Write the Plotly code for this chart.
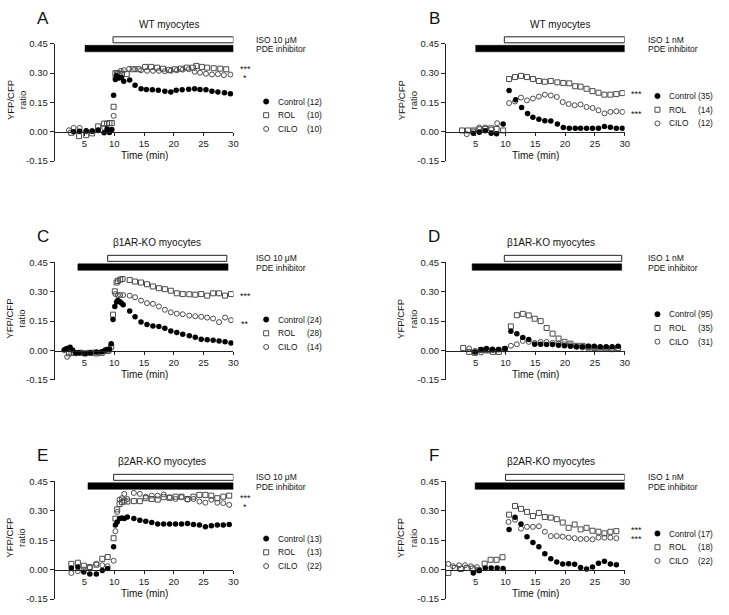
import plotly.graph_objects as go

W, H = 729, 615
FONT = "Liberation Sans, Arial, sans-serif"

# ---------------- data ----------------
# Panel A - WT myocytes, ISO 10 uM
A_ctrl_t = [3.2, 4.2, 5.3, 6.3, 7.3, 8.3, 8.8, 9.2, 9.6, 9.9, 10.2, 10.4, 10.8, 11.2, 11.6, 12.6, 13.5, 14.5, 15.4,
            16.4, 17.4, 18.5, 19.5, 20.4, 21.4, 22.5, 23.5, 24.4, 25.4, 26.4, 27.4, 28.5, 29.5]
A_ctrl_y = [0.0, 0.003, 0.005, 0.003, 0.007, -0.005, 0.015, -0.003, 0.012, 0.187, 0.267, 0.287, 0.275, 0.278, 0.258,
            0.265, 0.238, 0.22, 0.217, 0.215, 0.212, 0.208, 0.203, 0.212, 0.215, 0.218, 0.22, 0.217, 0.215, 0.208,
            0.203, 0.2, 0.195]
A_rol_t = [2.8, 4.1, 5.3, 6.3, 7.3, 8.3, 8.8, 9.2, 9.6, 9.9, 10.2, 10.5, 10.9, 11.3, 12.1, 13.1, 14.1, 15.2, 16.2,
           17.2, 18.2, 19.2, 20.2, 21.2, 22.2, 23.2, 23.8, 24.7, 25.6, 26.7, 27.8, 28.8]
A_rol_y = [-0.005, -0.022, -0.017, -0.008, 0.028, 0.042, 0.042, 0.045, 0.045, 0.128, 0.3, 0.3, 0.297, 0.297, 0.295,
           0.32, 0.32, 0.332, 0.332, 0.328, 0.323, 0.317, 0.32, 0.323, 0.328, 0.328, 0.337, 0.332, 0.328, 0.325,
           0.323, 0.32]
A_cilo_t = [2.4, 3.2, 4.2, 5.3, 6.3, 7.3, 8.3, 9.0, 9.9, 10.2, 10.6, 11.1, 11.6, 12.5, 13.5, 14.5, 15.5, 16.5, 17.5,
            18.5, 19.5, 20.5, 21.5, 22.5, 23.5, 24.4, 25.4, 26.4, 27.4, 28.4, 29.5]
A_cilo_y = [0.008, 0.02, 0.02, 0.002, 0.005, 0.01, 0.02, 0.01, 0.082, 0.28, 0.3, 0.312, 0.315, 0.322, 0.32, 0.315,
            0.312, 0.312, 0.312, 0.31, 0.312, 0.315, 0.318, 0.32, 0.307, 0.302, 0.297, 0.293, 0.295, 0.29, 0.293]

# Panel B - WT myocytes, ISO 1 nM
B_ctrl_t = [4.6, 5.6, 6.6, 7.6, 8.5, 9.6, 10.6, 11.7, 12.7, 13.7, 14.6, 15.6, 16.6, 17.6, 18.7, 19.7, 20.7, 21.7,
            22.6, 23.6, 24.6, 25.6, 26.6, 27.6, 28.6, 29.6]
B_ctrl_y = [-0.007, -0.002, 0.005, -0.007, -0.01, 0.04, 0.211, 0.164, 0.124, 0.094, 0.074, 0.064, 0.057, 0.055,
            0.04, 0.022, 0.018, 0.018, 0.018, 0.018, 0.018, 0.018, 0.027, 0.023, 0.018, 0.018]
B_rol_t = [2.7, 3.7, 4.6, 5.6, 6.6, 7.6, 8.5, 9.6, 10.6, 11.6, 12.6, 13.6, 14.6, 15.6, 16.6, 17.6, 18.7, 19.7, 20.7,
           21.7, 22.6, 23.6, 24.6, 25.6, 26.6, 27.6, 28.6, 29.6]
B_rol_y = [0.007, 0.007, 0.007, 0.013, 0.015, 0.018, 0.015, 0.007, 0.27, 0.28, 0.286, 0.28, 0.27, 0.26, 0.256, 0.26,
           0.253, 0.25, 0.248, 0.233, 0.231, 0.22, 0.208, 0.2, 0.19, 0.19, 0.193, 0.198]
B_cilo_t = [3.5, 4.6, 5.6, 6.6, 7.6, 8.6, 10.6, 11.6, 12.6, 13.6, 14.6, 15.6, 16.6, 17.6, 18.6, 19.6, 20.6, 21.6,
            22.6, 23.6, 24.6, 25.6, 26.6, 27.6, 28.6, 29.6]
B_cilo_y = [-0.012, 0.002, 0.022, 0.022, 0.012, 0.044, 0.147, 0.155, 0.175, 0.161, 0.17, 0.18, 0.19, 0.186, 0.178,
            0.152, 0.142, 0.136, 0.14, 0.127, 0.122, 0.11, 0.094, 0.102, 0.105, 0.102]

# Panel C - b1AR-KO, ISO 10 uM
C_ctrl_t = [1.6, 1.9, 2.1, 2.6, 3.0, 3.5, 4.1, 5.1, 6.0, 7.0, 7.9, 8.5, 8.8, 9.2, 9.5, 9.8, 10.1, 10.4, 10.6, 10.9,
            11.2, 11.5, 12.6, 13.5, 14.5, 15.5, 16.5, 17.5, 18.5, 19.5, 20.5, 21.5, 22.6, 23.6, 24.6, 25.6, 26.6,
            27.6, 28.6, 29.6]
C_ctrl_y = [0.002, 0.008, 0.01, 0.017, 0.002, -0.012, -0.012, -0.015, -0.012, -0.008, -0.007, 0.002, 0.005, 0.008,
            0.035, 0.158, 0.225, 0.247, 0.255, 0.25, 0.242, 0.233, 0.202, 0.172, 0.145, 0.133, 0.125, 0.122, 0.113,
            0.1, 0.092, 0.083, 0.075, 0.068, 0.058, 0.055, 0.052, 0.048, 0.045, 0.038]
C_rol_t = [2.4, 3.2, 4.1, 5.1, 6.0, 7.0, 7.9, 8.9, 9.5, 9.8, 10.1, 10.4, 10.6, 11.0, 11.4, 12.6, 13.5, 14.5, 15.5,
           16.5, 17.5, 18.5, 19.5, 20.5, 21.5, 22.6, 23.6, 24.6, 25.6, 26.6, 27.6, 28.6, 29.6]
C_rol_y = [-0.015, -0.012, -0.012, -0.015, -0.012, -0.015, -0.012, -0.003, 0.02, 0.183, 0.302, 0.347, 0.355, 0.362,
           0.365, 0.36, 0.352, 0.347, 0.338, 0.327, 0.318, 0.313, 0.305, 0.292, 0.288, 0.287, 0.285, 0.288, 0.28,
           0.292, 0.292, 0.28, 0.288]
C_cilo_t = [2.1, 2.8, 3.6, 4.6, 5.5, 6.5, 7.4, 8.3, 9.2, 10.2, 10.6, 11.0, 11.5, 12.6, 13.5, 14.5, 15.5, 16.5, 17.5,
            18.5, 19.5, 20.5, 21.5, 22.6, 23.6, 24.6, 25.6, 26.6, 27.6, 28.6, 29.6]
C_cilo_y = [-0.032, -0.012, -0.015, -0.01, -0.012, -0.01, -0.012, -0.005, 0.0, 0.288, 0.283, 0.283, 0.283, 0.28,
            0.272, 0.255, 0.242, 0.238, 0.225, 0.208, 0.195, 0.188, 0.185, 0.178, 0.175, 0.172, 0.168, 0.163, 0.145,
            0.168, 0.155]

# Panel D - b1AR-KO, ISO 1 nM
D_ctrl_t = [4.9, 5.9, 6.8, 7.8, 8.8, 9.9, 10.9, 11.9, 12.9, 13.9, 14.9, 15.9, 16.9, 17.9, 18.9, 19.9, 20.9, 21.9,
            22.9, 23.9, 24.9, 25.9, 26.9, 27.9, 28.9]
D_ctrl_y = [-0.008, 0.005, 0.01, 0.007, 0.005, 0.01, 0.098, 0.086, 0.066, 0.056, 0.032, 0.032, 0.03, 0.03, 0.027,
            0.024, 0.022, 0.019, 0.019, 0.022, 0.022, 0.019, 0.019, 0.019, 0.022]
D_rol_t = [2.9, 3.9, 4.9, 5.9, 6.9, 7.9, 8.9, 9.9, 10.9, 11.9, 12.9, 13.9, 14.9, 15.9, 16.9, 17.9, 18.9, 19.9, 20.9,
           21.9, 22.9, 23.9, 24.9, 25.9, 26.9, 27.9, 28.9]
D_rol_y = [0.013, -0.007, -0.012, 0.002, 0.0, -0.007, -0.007, 0.007, 0.123, 0.18, 0.187, 0.179, 0.162, 0.15, 0.115,
           0.086, 0.061, 0.044, 0.035, 0.024, 0.024, 0.019, 0.013, 0.01, 0.01, 0.007, 0.013]
D_cilo_t = [3.9, 4.9, 5.9, 6.9, 7.9, 8.9, 9.9, 10.9, 11.9, 12.9, 13.9, 14.9, 15.9, 16.9, 17.9, 18.9, 19.9, 20.9,
            21.9, 22.9, 23.9, 24.9, 25.9, 26.9, 27.9, 28.9]
D_cilo_y = [0.01, -0.002, -0.01, 0.002, 0.002, 0.005, 0.005, 0.024, 0.032, 0.049, 0.044, 0.039, 0.044, 0.044, 0.039,
            0.035, 0.032, 0.027, 0.019, 0.015, 0.01, 0.015, 0.015, 0.013, 0.01, 0.01]

# Panel E - b2AR-KO, ISO 10 uM
E_t = [2.8, 3.9, 4.9, 5.9, 7.0, 8.0, 8.9, 9.9, 10.2, 10.5, 10.9, 11.3, 11.7, 12.2, 13.3, 14.3, 15.3, 16.3, 17.3,
       18.3, 19.3, 20.3, 21.3, 22.3, 23.3, 24.3, 25.3, 26.3, 27.3, 28.3, 29.3]
E_ctrl_y = [0.008, 0.013, -0.012, -0.022, -0.022, -0.005, 0.005, 0.116, 0.227, 0.243, 0.26, 0.263, 0.26, 0.268,
            0.26, 0.252, 0.247, 0.24, 0.233, 0.233, 0.233, 0.233, 0.233, 0.235, 0.23, 0.227, 0.218, 0.223, 0.227,
            0.227, 0.23]
E_rol_y = [0.029, 0.035, 0.02, 0.013, 0.025, 0.055, 0.064, 0.16, 0.26, 0.307, 0.334, 0.344, 0.352, 0.347, 0.349,
           0.349, 0.364, 0.36, 0.357, 0.369, 0.366, 0.372, 0.372, 0.36, 0.372, 0.381, 0.381, 0.377, 0.364, 0.372,
           0.377]
E_cilo_y = [-0.017, -0.008, 0.0, 0.01, 0.03, 0.022, 0.017, 0.045, 0.196, 0.294, 0.357, 0.364, 0.386, 0.36, 0.391,
            0.386, 0.372, 0.377, 0.377, 0.383, 0.369, 0.36, 0.369, 0.357, 0.36, 0.347, 0.341, 0.356, 0.341, 0.339,
            0.33]

# Panel F - b2AR-KO, ISO 1 nM
F_ctrl_t = [4.6, 5.6, 6.6, 7.6, 8.6, 9.6, 10.6, 11.6, 12.6, 13.6, 14.6, 15.6, 16.6, 17.6, 18.6, 19.6, 20.6, 21.6,
            22.6, 23.6, 24.6, 25.6, 26.6, 27.6, 28.6]
F_ctrl_y = [-0.017, -0.005, 0.008, 0.008, 0.008, 0.005, 0.205, 0.267, 0.232, 0.168, 0.138, 0.117, 0.081, 0.055,
            0.039, 0.029, 0.03, 0.027, 0.01, 0.003, 0.013, 0.032, 0.042, 0.029, 0.025]
F_rol_t = [0.4, 1.5, 2.5, 3.5, 4.5, 5.5, 6.5, 7.5, 8.5, 9.5, 10.6, 11.6, 12.6, 13.6, 14.6, 15.6, 16.6, 17.6, 18.6,
           19.6, 20.6, 21.6, 22.6, 23.6, 24.6, 25.6, 26.6, 27.6, 28.6]
F_rol_y = [-0.017, 0.008, 0.003, 0.008, 0.005, -0.003, 0.03, 0.05, 0.05, 0.063, 0.28, 0.324, 0.31, 0.294, 0.273,
           0.289, 0.268, 0.265, 0.257, 0.24, 0.213, 0.23, 0.205, 0.213, 0.198, 0.193, 0.185, 0.193, 0.196]
F_cilo_t = [0.4, 1.2, 2.2, 3.2, 4.2, 5.2, 10.5, 11.6, 12.6, 13.6, 14.6, 15.6, 16.6, 17.6, 18.6, 19.6, 20.6, 21.6,
            22.6, 23.6, 24.6, 25.6, 26.6, 27.6, 28.6]
F_cilo_y = [0.029, 0.017, 0.022, 0.022, 0.017, 0.012, 0.243, 0.254, 0.209, 0.218, 0.218, 0.221, 0.193, 0.171, 0.171,
            0.168, 0.163, 0.16, 0.156, 0.156, 0.154, 0.163, 0.163, 0.163, 0.16]

letters = ["A", "B", "C", "D", "E", "F"]
titles = ["WT myocytes", "WT myocytes", "\u03b21AR-KO myocytes", "\u03b21AR-KO myocytes",
          "\u03b22AR-KO myocytes", "\u03b22AR-KO myocytes"]
iso_labels = ["ISO 10 \u03bcM", "ISO 1 nM", "ISO 10 \u03bcM", "ISO 1 nM", "ISO 10 \u03bcM", "ISO 1 nM"]
# protocol bars (min)
iso_start = [9.8, 9.8, 8.9, 9.8, 9.9, 10.0]
iso_end = [30, 30, 28.9, 29.5, 30, 30]
pde_start = [5.1, 5.0, 3.9, 4.4, 5.6, 4.9]
pde_end = [30, 30, 29.1, 29.5, 30, 30]
n_ctrl = [12, 35, 24, 95, 13, 17]
n_rol = [10, 14, 28, 35, 13, 18]
n_cilo = [10, 12, 14, 31, 22, 22]
stars = [["***", "*"], ["***", "***"], ["***", "**"], [], ["***", "*"], ["***", "***"]]
star_y = [[0.322, 0.277], [0.193, 0.092], [0.277, 0.137], [], [0.366, 0.32], [0.203, 0.158]]
legend_top = [0.155, 0.183, 0.158, 0.185, 0.158, 0.184]

series = [
    (A_ctrl_t, A_ctrl_y, A_rol_t, A_rol_y, A_cilo_t, A_cilo_y),
    (B_ctrl_t, B_ctrl_y, B_rol_t, B_rol_y, B_cilo_t, B_cilo_y),
    (C_ctrl_t, C_ctrl_y, C_rol_t, C_rol_y, C_cilo_t, C_cilo_y),
    (D_ctrl_t, D_ctrl_y, D_rol_t, D_rol_y, D_cilo_t, D_cilo_y),
    (E_t, E_ctrl_y, E_t, E_rol_y, E_t, E_cilo_y),
    (F_ctrl_t, F_ctrl_y, F_rol_t, F_rol_y, F_cilo_t, F_cilo_y),
]

# ---------------- layout in pixels ----------------
col_px = [(55, 235), (449, 629)]
row_px = [(38.5, 158), (261, 380.7), (484, 603.8)]
title_x = [0.64, 0.64, 0.57, 0.59, 0.6, 0.59]
GRAY = "#4a4a4a"
TXT = "#111"

fig = go.Figure()
shapes = []
annotations = []


def note(text, xref, yref, x, y, size, xanchor="center", **kw):
    return dict(text=text, xref=xref, yref=yref, x=x, y=y, xanchor=xanchor, yanchor="middle",
                showarrow=False, font=dict(size=size, color=TXT), **kw)


for i in range(6):
    n = i + 1
    r, c = divmod(i, 2)
    s = "" if n == 1 else str(n)
    xa, ya = "x" + s, "y" + s
    xd, yd = xa + " domain", ya + " domain"
    xl, xr = col_px[c]
    yt, yb = row_px[r]
    xdom = [xl / W, xr / W]
    ydom = [1 - yb / H, 1 - yt / H]
    hpx = yb - yt
    wpx = xr - xl
    zero_pos = ydom[0] + 0.25 * (ydom[1] - ydom[0])

    fig.update_layout(**{
        "xaxis" + s: dict(domain=xdom, range=[0, 30], anchor="free", position=zero_pos,
                          showline=True, linecolor="#222", linewidth=1, ticks="outside", ticklen=3,
                          tickcolor="#222", tickvals=[5, 10, 15, 20, 25, 30], showgrid=False,
                          zeroline=False, tickfont=dict(size=9.5, color="#222")),
        "yaxis" + s: dict(domain=ydom, range=[-0.15, 0.45], anchor=xa, showline=True, linecolor="#222",
                          linewidth=1, ticks="outside", ticklen=4, tickcolor="#222",
                          tickvals=[-0.15, 0, 0.15, 0.3, 0.45],
                          ticktext=["-0.15", "0.00", "0.15", "0.30", "0.45"],
                          showgrid=False, zeroline=False, tickfont=dict(size=9.5, color="#222")),
    })

    ct, cy, rt, ry, it, iy = series[i]
    fig.add_trace(go.Scatter(x=rt, y=ry, mode="markers", xaxis=xa, yaxis=ya, showlegend=False,
                             marker=dict(symbol="square-open", size=5, color=GRAY, line=dict(width=1))))
    fig.add_trace(go.Scatter(x=it, y=iy, mode="markers", xaxis=xa, yaxis=ya, showlegend=False,
                             marker=dict(symbol="circle-open", size=5, color=GRAY, line=dict(width=1))))
    fig.add_trace(go.Scatter(x=ct, y=cy, mode="markers", xaxis=xa, yaxis=ya, showlegend=False,
                             marker=dict(symbol="circle", size=5.5, color="black")))

    # protocol bars
    shapes.append(dict(type="rect", xref=xa, yref=yd, x0=iso_start[i], x1=iso_end[i],
                       ysizemode="pixel", yanchor=1, y0=1, y1=7,
                       fillcolor="white", line=dict(color="#222", width=1)))
    shapes.append(dict(type="rect", xref=xa, yref=yd, x0=pde_start[i], x1=pde_end[i],
                       ysizemode="pixel", yanchor=1, y0=-8, y1=-1.5,
                       fillcolor="black", line=dict(color="black", width=0.5)))

    def dom(px):
        return 1 + px / wpx

    annotations += [
        note(letters[i], xd, yd, -12 / wpx, 1 + 26 / hpx, 17),
        note(titles[i], xd, yd, title_x[i], 1 + 20 / hpx, 10),
        note(iso_labels[i], xd, yd, dom(21), 1 + 4 / hpx, 8.5, xanchor="left"),
        note("PDE inhibitor", xd, yd, dom(21), 1 - 5.5 / hpx, 8.5, xanchor="left"),
        note("Time (min)", xd, yd, 0.5, 0.25 - 24 / hpx, 10),
        note("YFP/CFP<br>ratio", xd, yd, -39 / wpx, 0.52, 9.5, textangle=-90),
    ]
    for st, sy in zip(stars[i], star_y[i]):
        annotations.append(note(st, xd, ya, dom(12), sy, 9))

    # legend (marker key + label + n)
    names = ["Control", "ROL", "CILO"]
    counts = [n_ctrl[i], n_rol[i], n_cilo[i]]
    for k in range(3):
        ly = legend_top[i] - 0.07 * k
        key = dict(xref=xd, yref=ya, xsizemode="pixel", ysizemode="pixel", xanchor=dom(33), yanchor=ly)
        if k == 0:
            shapes.append(dict(type="circle", x0=-2.7, x1=2.7, y0=-2.7, y1=2.7, fillcolor="black",
                               line=dict(color="black", width=0.5), **key))
        elif k == 1:
            shapes.append(dict(type="rect", x0=-2.5, x1=2.5, y0=-2.5, y1=2.5, fillcolor="rgba(0,0,0,0)",
                               line=dict(color=GRAY, width=1), **key))
        else:
            shapes.append(dict(type="circle", x0=-2.5, x1=2.5, y0=-2.5, y1=2.5, fillcolor="rgba(0,0,0,0)",
                               line=dict(color=GRAY, width=1), **key))
        annotations.append(note(names[k], xd, ya, dom(43), ly, 8.3, xanchor="left"))
        annotations.append(note("(%d)" % counts[k], xd, ya, dom(91), ly, 8.3, xanchor="right"))

fig.update_layout(
    width=W, height=H,
    margin=dict(l=0, r=0, t=0, b=0),
    paper_bgcolor="white", plot_bgcolor="white",
    font=dict(family=FONT, color=TXT),
    shapes=shapes, annotations=annotations,
    showlegend=False,
)

# the page body has a default 8px margin; drop it so the figure sits at the window corner
fig.write_html("out.html", config={"displayModeBar": False},
               post_script="document.body.style.margin='0';document.body.style.overflow='hidden';")
